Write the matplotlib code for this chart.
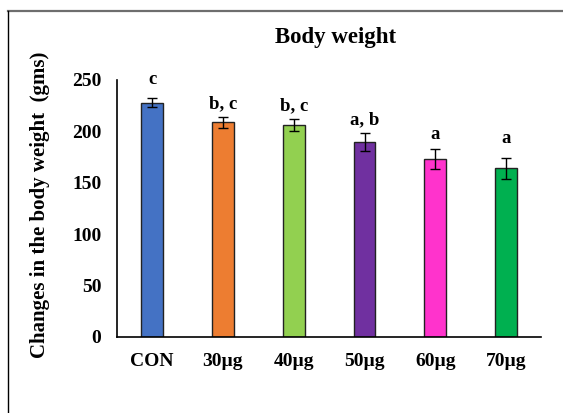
import matplotlib
matplotlib.use("Agg")
import matplotlib.pyplot as plt
from matplotlib.lines import Line2D

# Body weight per treatment group (mean ± error)
groups = ["CON", "30µg", "40µg", "50µg", "60µg", "70µg"]
weights = [227.9, 208.8, 206.5, 189.6, 173.1, 164.0]
errors = [4.4, 5.6, 5.8, 8.6, 9.4, 10.2]
letters = ["c", "b, c", "b, c", "a, b", "a", "a"]
letter_heights = [250, 227.3, 224.7, 211, 196.5, 193.2]
colors = ["#4472C4", "#ED7D31", "#92D050", "#7030A0", "#FF33CC", "#00B050"]
yticks = [0, 50, 100, 150, 200, 250]

plt.rcParams["font.family"] = ["Liberation Serif", "DejaVu Serif"]
plt.rcParams["font.weight"] = "bold"

fig = plt.figure(figsize=(5.63, 4.13), dpi=100)
ax = fig.add_axes([0.2073, 0.1847, 0.7545, 0.6216])

x = list(range(len(groups)))
ax.bar(x, weights, width=0.31, color=colors, edgecolor="#222222", linewidth=1.0,
       yerr=errors, capsize=3.5,
       error_kw=dict(ecolor="black", elinewidth=1.0, capthick=1.0))

for xi, lab, h in zip(x, letters, letter_heights):
    ax.text(xi, h, lab, ha="center", va="center", fontsize=13.5, fontweight="bold")

ax.set_xlim(-0.5, len(groups) - 0.5)
ax.set_ylim(0, 250)
ax.set_yticks(yticks)
ax.set_xticks(x)
ax.set_xticklabels(groups)
ax.tick_params(axis="both", length=0, labelsize=14)
ax.tick_params(axis="y", pad=11)
ax.tick_params(axis="x", pad=12)
for t in ax.get_xticklabels() + ax.get_yticklabels():
    t.set_fontweight("bold")

for side in ("top", "right"):
    ax.spines[side].set_visible(False)
for side in ("left", "bottom"):
    ax.spines[side].set_color("black")
    ax.spines[side].set_linewidth(1.2)

fig.text(336 / 563, 1 - 38 / 413, "Body weight", ha="center", va="center",
         fontsize=16.5, fontweight="bold")
fig.text(40 / 563, 1 - 205 / 413, "Changes in the body weight  (gms)",
         ha="center", va="center", rotation=90, fontsize=15, fontweight="bold")

# Outer frame: grey top edge and black left edge
fig.add_artist(Line2D([8 / 563, 1.0], [1 - 11 / 413, 1 - 11 / 413],
                      transform=fig.transFigure, color="#6e6e6e", linewidth=1.6))
fig.add_artist(Line2D([8 / 563, 8 / 563], [0.0, 1 - 11 / 413],
                      transform=fig.transFigure, color="black", linewidth=1.0))

fig.savefig("out.png", dpi=100)
